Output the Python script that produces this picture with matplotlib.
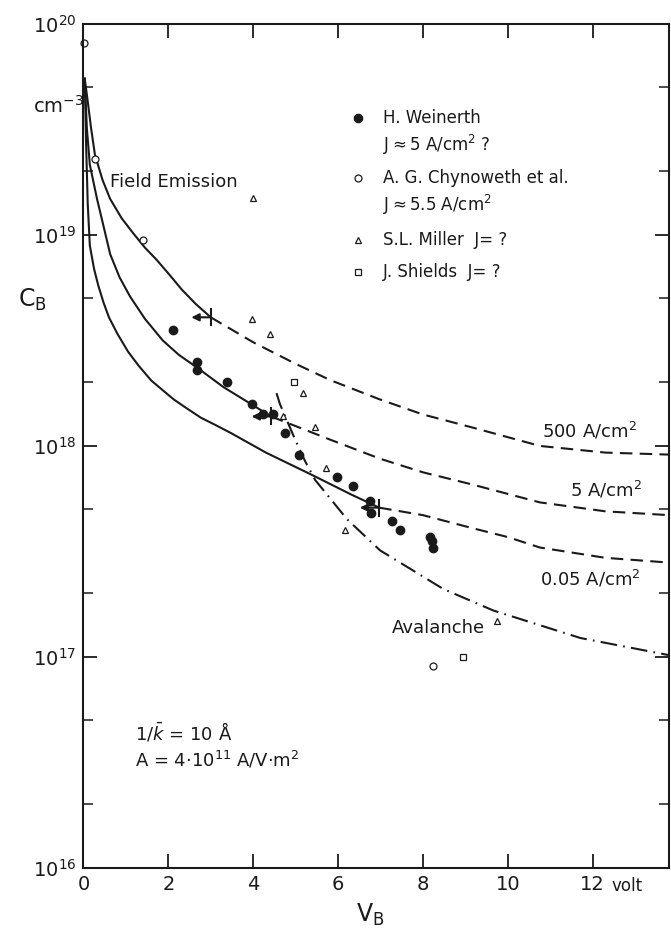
import matplotlib
matplotlib.use("Agg")
import matplotlib.pyplot as plt
from matplotlib.ticker import LogLocator, NullFormatter
from matplotlib.transforms import offset_copy

# field emission curves (solid) and their continuation (dashed), V_B in volt, C_B in cm^-3
fe500_v = [0.03, 0.10, 0.18, 0.27, 0.45, 0.63, 0.90, 1.17, 1.45, 1.73, 2.02, 2.32, 2.65, 3.00]
fe500_c = [5.5e19, 4.3e19, 3.2e19, 2.4e19, 1.82e19, 1.48e19, 1.2e19, 1.02e19, 8.7e18, 7.6e18,
           6.5e18, 5.5e18, 4.7e18, 4.07e18]
dash500_v = [3.00, 4.00, 5.00, 5.82, 6.99, 8.00, 9.12, 10.76, 12.30, 13.80]
dash500_c = [4.07e18, 3.1e18, 2.45e18, 2.05e18, 1.66e18, 1.41e18, 1.23e18, 1.0e18, 9.3e17, 9.1e17]

fe5_v = [0.03, 0.08, 0.15, 0.32, 0.45, 0.63, 0.85, 1.10, 1.45, 1.87, 2.25, 2.68, 3.30, 3.95, 4.42]
fe5_c = [5.5e19, 3.2e19, 2.15e19, 1.48e19, 1.15e19, 8.1e18, 6.3e18, 5.1e18, 4.0e18, 3.16e18,
         2.7e18, 2.35e18, 1.9e18, 1.58e18, 1.38e18]
dash5_v = [4.42, 5.82, 6.99, 8.00, 9.12, 10.76, 12.30, 13.80]
dash5_c = [1.38e18, 1.07e18, 8.7e17, 7.5e17, 6.6e17, 5.4e17, 4.9e17, 4.7e17]

fe005_v = [0.03, 0.06, 0.10, 0.15, 0.25, 0.35, 0.47, 0.60, 0.80, 1.05, 1.30, 1.60, 1.85, 2.13,
           2.45, 2.77, 3.10, 3.48, 4.30, 5.44, 6.30, 6.97]
fe005_c = [5.5e19, 2.8e19, 1.41e19, 8.9e18, 6.9e18, 5.75e18, 4.8e18, 4.07e18, 3.4e18, 2.8e18,
           2.4e18, 2.04e18, 1.85e18, 1.66e18, 1.5e18, 1.36e18, 1.26e18, 1.15e18, 9.3e17, 7.2e17,
           5.9e17, 5.1e17]
dash005_v = [6.97, 8.00, 9.12, 10.00, 10.76, 12.30, 13.80]
dash005_c = [5.1e17, 4.7e17, 4.1e17, 3.7e17, 3.3e17, 2.95e17, 2.8e17]

aval_v = [4.55, 4.63, 4.99, 5.22, 5.46, 6.21, 6.99, 8.48, 9.66, 11.71, 13.80]
aval_c = [1.78e18, 1.58e18, 1.07e18, 8.5e17, 6.9e17, 4.5e17, 3.2e17, 2.1e17, 1.66e17, 1.23e17, 1.02e17]

# where solid turns into dashed
trans_v = [3.00, 4.42, 6.97]
trans_c = [4.07e18, 1.38e18, 5.1e17]

# measurements
wein_v = [2.11, 2.68, 2.68, 3.38, 3.97, 4.23, 4.47, 4.75, 5.08, 5.98, 6.36, 6.76, 6.78,
          7.28, 7.46, 8.17, 8.22, 8.24]
wein_c = [3.55e18, 2.5e18, 2.3e18, 2.0e18, 1.58e18, 1.41e18, 1.41e18, 1.15e18, 9.1e17,
          7.1e17, 6.45e17, 5.5e17, 4.8e17, 4.4e17, 4.0e17, 3.7e17, 3.55e17, 3.3e17]
chyn_v = [0.01, 0.27, 1.40, 8.24]
chyn_c = [8.1e19, 2.3e19, 9.5e18, 9.1e16]
mill_v = [4.00, 3.97, 4.40, 5.18, 4.70, 5.46, 5.72, 6.17, 9.75]
mill_c = [1.5e19, 4.0e18, 3.4e18, 1.78e18, 1.38e18, 1.23e18, 7.9e17, 4.0e17, 1.48e17]
shie_v = [4.96, 8.95]
shie_c = [2.0e18, 1.0e17]

xticks = [0, 2, 4, 6, 8, 10, 12]
xtick_labels = ['0', '2', '4', '6', '8', '10', '12']
yticks = [1e16, 1e17, 1e18, 1e19, 1e20]
ytick_labels = ['$10^{16}$', '$10^{17}$', '$10^{18}$', '$10^{19}$', '$10^{20}$']

ink = '#1a1a1a'
plt.rcParams['font.family'] = ['DejaVu Sans']
plt.rcParams['mathtext.fontset'] = 'dejavusans'

fig = plt.figure(figsize=(6.71, 9.35), dpi=100)
ax = fig.add_axes([0.1244, 0.0717, 0.8726, 0.9027])
ax.set_yscale('log')
ax.set_xlim(0, 13.8)
ax.set_ylim(1e16, 1e20)

lw = 1.5
ax.plot(fe500_v, fe500_c, color=ink, lw=lw)
ax.plot(fe5_v, fe5_c, color=ink, lw=lw)
ax.plot(fe005_v, fe005_c, color=ink, lw=lw)
for v, c in [(dash500_v, dash500_c), (dash5_v, dash5_c), (dash005_v, dash005_c)]:
    ax.plot(v, c, color=ink, lw=lw, dashes=(6, 3.5))
ax.plot(aval_v, aval_c, color=ink, lw=lw, dashes=(8, 3, 0.8, 3))

# transition bars with left arrows
ax.plot(trans_v, trans_c, ls='none', marker='|', ms=13, mew=1.5, color=ink)
left = offset_copy(ax.transData, fig=fig, x=-14, y=0, units='points')
for v, c in zip(trans_v, trans_c):
    ax.annotate('', xy=(v, c), xycoords=left, xytext=(v, c), textcoords='data',
                arrowprops=dict(arrowstyle='-|>', color=ink, lw=1.5, shrinkA=0, shrinkB=0,
                                mutation_scale=11))

ax.plot(wein_v, wein_c, ls='none', marker='o', ms=6, color=ink, clip_on=False)
ax.plot(chyn_v, chyn_c, ls='none', marker='o', ms=5, mfc='white', mec=ink, mew=0.9, clip_on=False)
ax.plot(mill_v, mill_c, ls='none', marker='^', ms=5, mfc='white', mec=ink, mew=0.9)
ax.plot(shie_v, shie_c, ls='none', marker='s', ms=4.5, mfc='white', mec=ink, mew=0.9)

ax.set_xticks(xticks)
ax.set_xticklabels(xtick_labels)
ax.set_yticks(yticks)
ax.set_yticklabels(ytick_labels)
ax.yaxis.set_minor_locator(LogLocator(base=10, subs=(2, 5)))
ax.yaxis.set_minor_formatter(NullFormatter())
ax.tick_params(which='both', direction='in', top=True, right=True, color=ink, labelcolor=ink)
ax.tick_params(which='major', length=10, width=1.3, labelsize=14, pad=5)
ax.tick_params(which='minor', length=7, width=1.1)
for s in ax.spines.values():
    s.set_linewidth(1.5)
    s.set_color(ink)

# labels in pixel positions of the figure
def ftext(px, py, s, **kw):
    kw.setdefault('color', ink)
    kw.setdefault('va', 'center')
    fig.text(px / 671, 1 - py / 935, s, **kw)

ftext(18, 300, r'$\mathrm{C_B}$', fontsize=17)
ftext(33, 106, r'cm$^{-3}$', fontsize=14)
ftext(370, 915, r'$\mathrm{V_B}$', fontsize=17, ha='center')
ftext(611, 886, 'volt', fontsize=12)
ftext(110, 182, 'Field Emission', fontsize=13)
ftext(392, 628, 'Avalanche', fontsize=13)
ftext(542, 431, r'500 A/cm$^2$', fontsize=13)
ftext(570, 490, r'5 A/cm$^2$', fontsize=13)
ftext(540, 579, r'0.05 A/cm$^2$', fontsize=13)
ftext(135, 732, r'$1/\bar{k}$ = 10 Å', fontsize=13)
ftext(135, 760, r'A = 4$\cdot$10$^{11}$ A/V$\cdot$m$^2$', fontsize=13)

# legend block
leg_x = 358 / 671
ax_leg = [(118, 'o', ink, 6), (178, 'o', 'white', 5), (240, '^', 'white', 5), (272, 's', 'white', 4.5)]
for py, m, fc, ms in ax_leg:
    fig.lines.append(plt.Line2D([leg_x], [1 - py / 935], marker=m, ms=ms, mfc=fc, mec=ink,
                                mew=0.9, ls='none', transform=fig.transFigure))
ftext(383, 118, 'H. Weinerth', fontsize=12)
ftext(383, 145, r'J$\approx$5 A/cm$^2$ ?', fontsize=12)
ftext(383, 178, 'A. G. Chynoweth et al.', fontsize=12)
ftext(383, 205, r'J$\approx$5.5 A/cm$^2$', fontsize=12)
ftext(383, 240, 'S.L. Miller  J= ?', fontsize=12)
ftext(383, 272, 'J. Shields  J= ?', fontsize=12)

fig.savefig('out.png', dpi=100)
